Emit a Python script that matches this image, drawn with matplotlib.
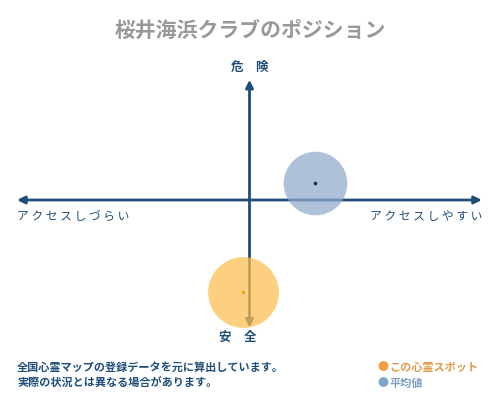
import matplotlib.pyplot as plt

plt.rcParams['font.family'] = ['Noto Sans CJK JP', 'DejaVu Sans']

# データ (横: アクセス, 縦: 危険度, 大きさ)
labels = ["この心霊スポット", "平均値"]
access = [-0.03, 0.28]
danger = [-0.74, 0.14]
size = [2600, 2100]
fill_colors = ["#fdbf4e", "#8eaacb"]
dot_colors = ["#f0a020", "#1a2a3a"]
legend_colors = ["#f0a040", "#7fa6c8"]
legend_text_colors = ["#e39a4a", "#7f9fbf"]

title = "桜井海浜クラブのポジション"
notes = ["全国心霊マップの登録データを元に算出しています。",
         "実際の状況とは異なる場合があります。"]

navy = "#1f4e79"

fig = plt.figure(figsize=(5, 4), dpi=100)
ax = fig.add_axes([0, 0, 1, 1])
ax.set_xlim(-1.0731, 1.0774)
ax.set_ylim(-1.6129, 1.6129)
ax.axis("off")

# 軸の矢印
arrow = dict(arrowstyle="<|-|>,head_length=0.45,head_width=0.22",
             color=navy, lw=2, shrinkA=0, shrinkB=0)
ax.annotate("", xy=(1.0, 0), xytext=(-1.0, 0), arrowprops=arrow)
ax.annotate("", xy=(0, 0.97), xytext=(0, -1.03), arrowprops=arrow)

# 円
for x, y, s, fc, dc in zip(access, danger, size, fill_colors, dot_colors):
    ax.scatter(x, y, s=s, color=fc, alpha=0.72, linewidths=0, zorder=3)
    ax.scatter(x, y, s=2.5, color=dc, zorder=4)

# ラベル
ax.text(0, 1.07, "危　険", ha="center", va="center", fontsize=9,
        fontweight="bold", color=navy)
ax.text(-0.05, -1.11, "安　全", ha="center", va="center", fontsize=9,
        fontweight="bold", color=navy)
ax.text(-1.0, -0.13, "ア ク セ ス し づ ら い", ha="left", va="center",
        fontsize=8.5, color=navy)
ax.text(1.0, -0.13, "ア ク セ ス し や す い", ha="right", va="center",
        fontsize=8.5, color=navy)

fig.text(0.5, 1 - 30 / 400, title, ha="center", va="center", fontsize=15,
         fontweight="bold", color="#999999")

for i, line in enumerate(notes):
    fig.text(17 / 500, 1 - (367 + 16 * i) / 400, line, ha="left",
             va="center", fontsize=8, fontweight="bold", color=navy)

for i, (lab, c, tc) in enumerate(zip(labels, legend_colors, legend_text_colors)):
    y = 1 - (367 + 16 * i) / 400
    fig.text(377 / 500, y, "●", ha="left", va="center", fontsize=8, color=c)
    fig.text(389 / 500, y, lab, ha="left", va="center", fontsize=8,
             fontweight="bold", color=tc)

fig.savefig("out.png", dpi=100)
